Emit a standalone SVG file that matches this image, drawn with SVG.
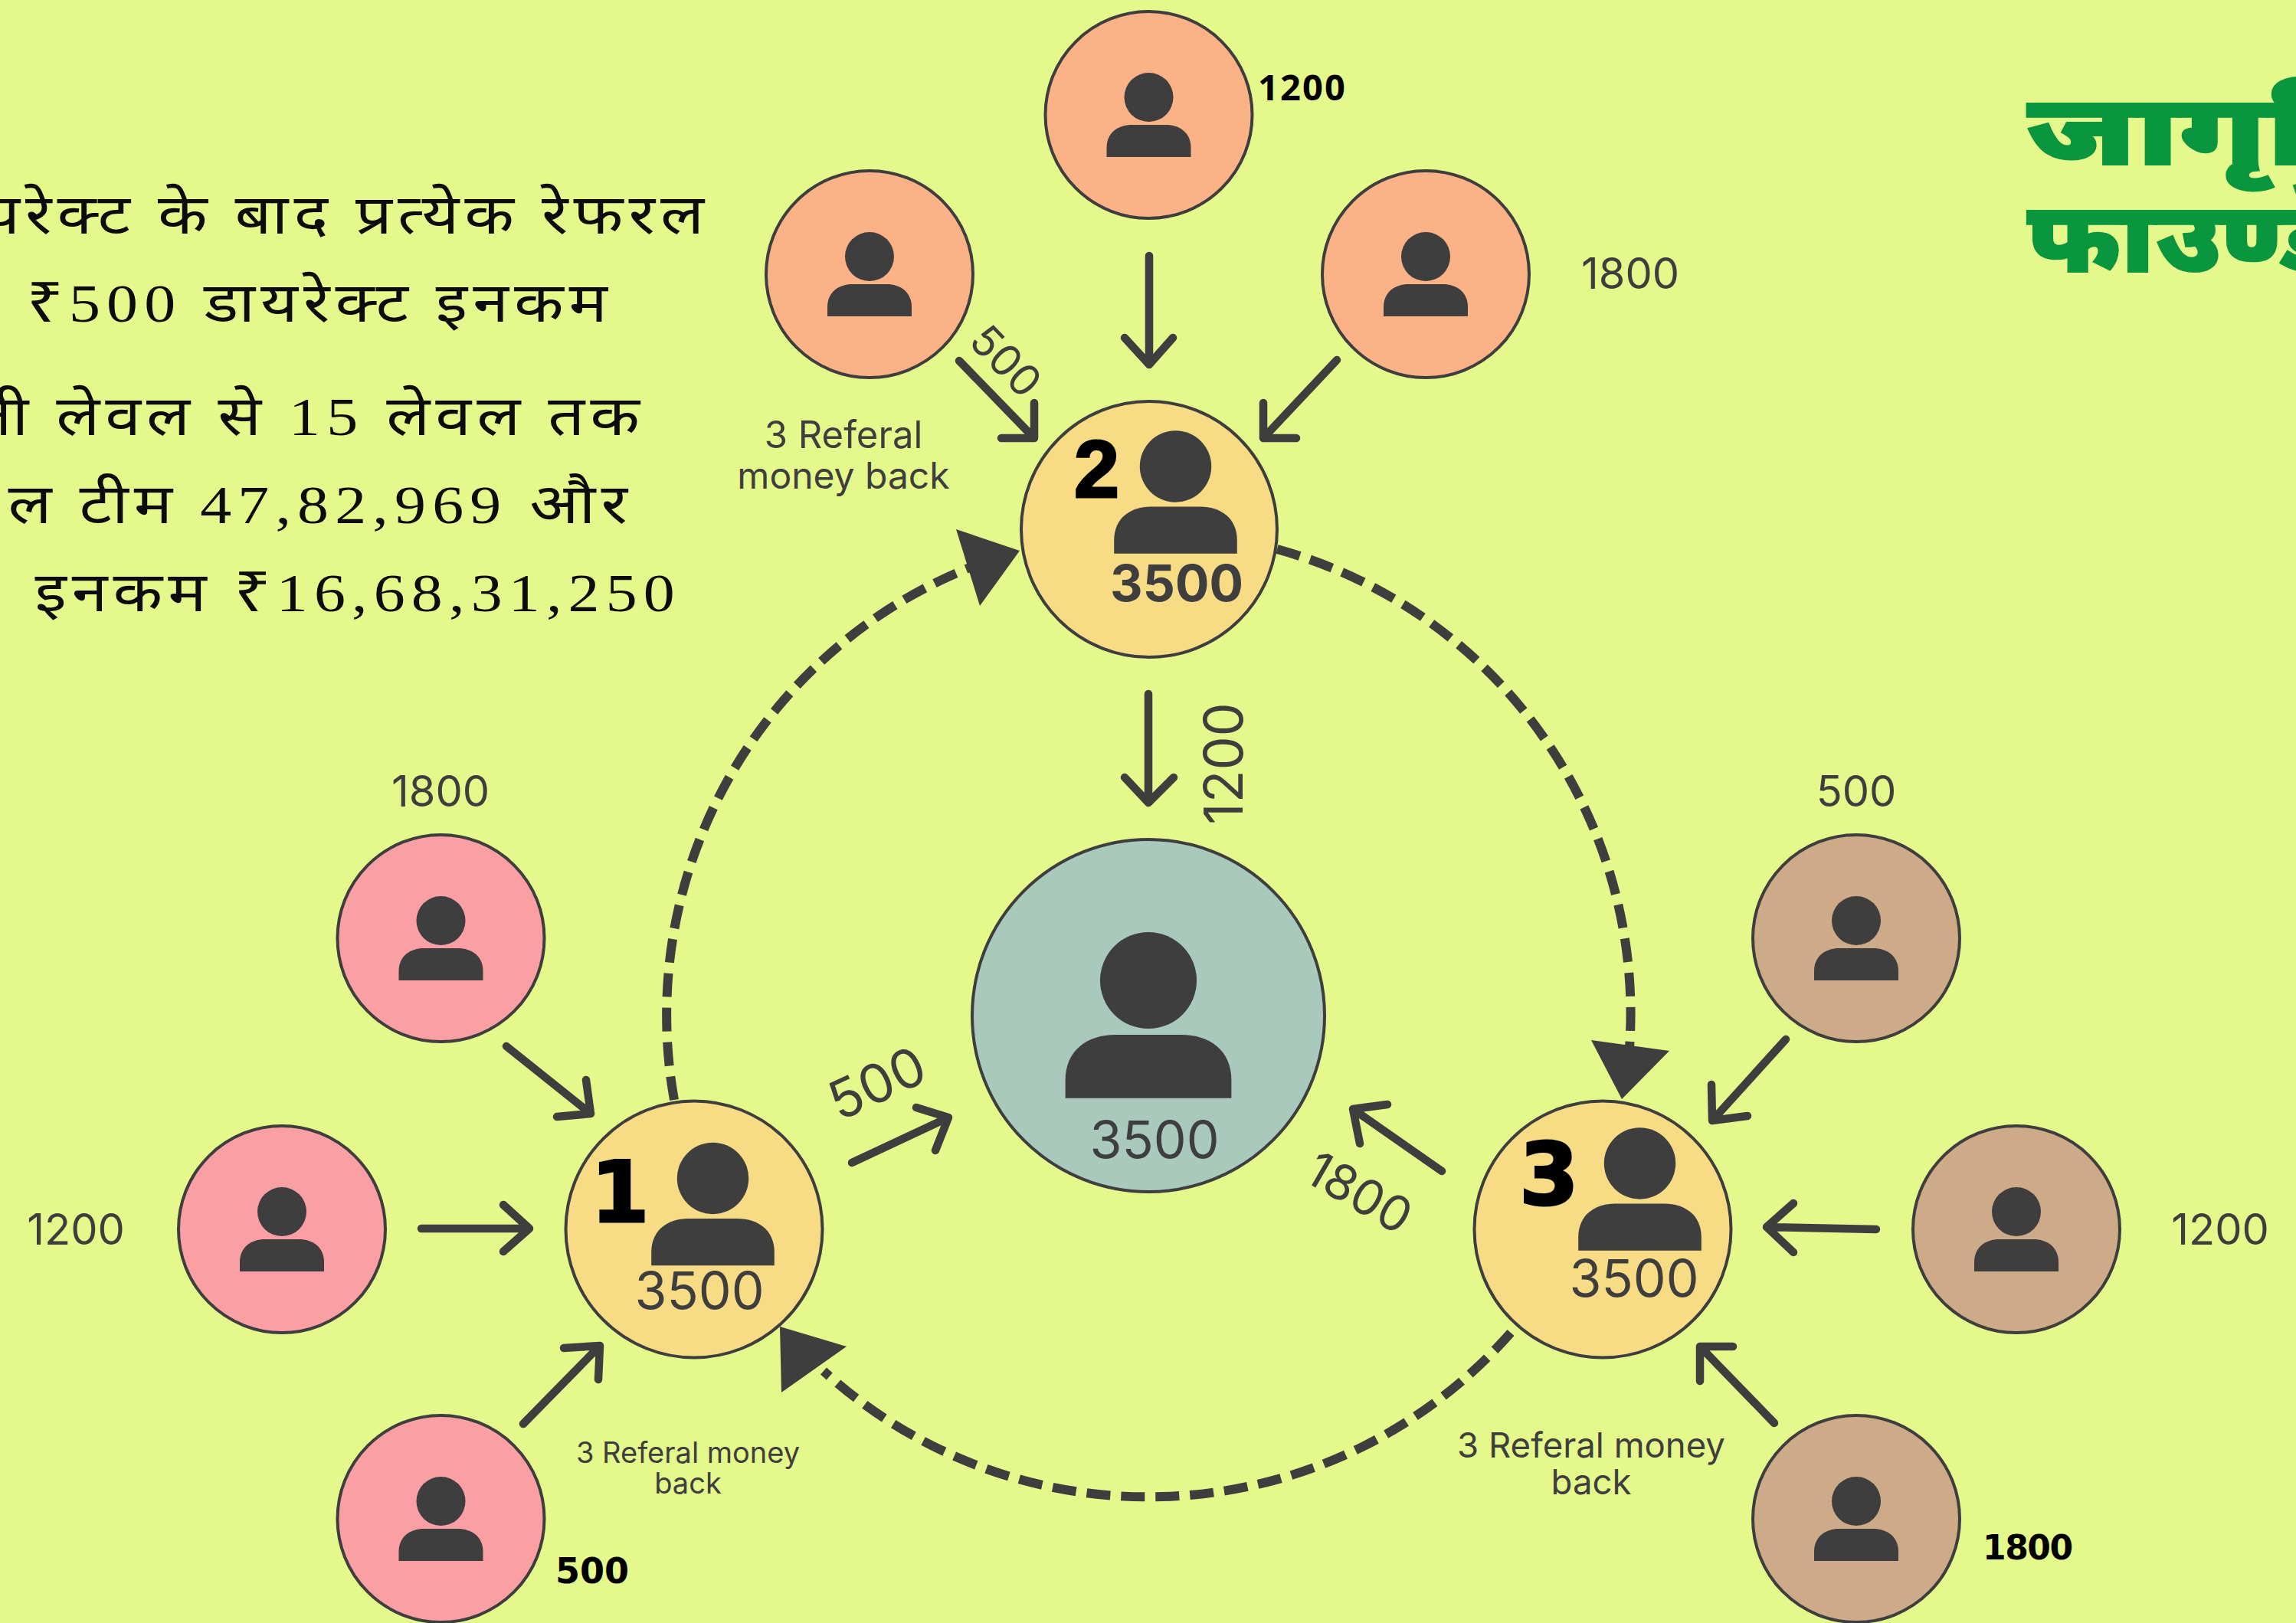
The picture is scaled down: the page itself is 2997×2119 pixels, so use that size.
<svg xmlns="http://www.w3.org/2000/svg" width="2997" height="2119" viewBox="0 0 2997 2119">
<style>
.n{stroke:#3e3e3e;stroke-width:4}
.o{fill:#fbb287}.p{fill:#faa0a5}.b{fill:#cdaa88}.y{fill:#f7dc85}.t{fill:#a8c9bc}
.arr{fill:none;stroke:#3e3e3e;stroke-width:10.500;stroke-linecap:round;stroke-linejoin:round}
.dash{fill:none;stroke:#3e3e3e;stroke-width:12;stroke-dasharray:31 14}
.head{fill:#3e3e3e}
.lb{font-family:Inter,"Liberation Sans",sans-serif;fill:#3e3e3e;font-weight:400;text-anchor:middle}
.lbb{font-weight:700}
.hi{font-family:"Noto Sans","Liberation Sans",sans-serif;font-size:72px;fill:#0c0c0c;text-anchor:end;letter-spacing:6px}
.d{font-family:"Liberation Serif",serif;font-size:70px;letter-spacing:7px}
.logo{font-family:"Noto Sans","Liberation Sans",sans-serif;font-size:128px;font-weight:900;fill:#0a953f;stroke:#0a953f;stroke-width:2}
.num{font-family:"DejaVu Sans",sans-serif;font-weight:700;fill:#000}
.hv{stroke:#000;stroke-width:3}
</style>
<defs>
<g id="person"><circle cx="0" cy="-36" r="32" fill="#3e3e3e"/><path d="M-55 42V30C-55 10-40 0-22 0H22C40 0 55 10 55 30V42Z" fill="#3e3e3e"/></g>
</defs>
<rect width="2997" height="2119" fill="#e5f88b"/>
<g id="connectors">
<path class="dash" d="M880 1436A629 629 0 0 1 1271 739"/>
<polygon class="head" points="1248,691 1331,719 1279,791"/>
<path class="dash" d="M1667 717A629 629 0 0 1 2126 1380"/>
<polygon class="head" points="2077,1358 2179,1372 2117,1435"/>
<path class="dash" d="M1972 1740A629 629 0 0 1 1075 1790"/>
<polygon class="head" points="1018,1732 1105,1758 1020,1818"/>
<path class="arr" d="M1500 334V476M1468 441L1500 476L1531 441"/>
<path class="arr" d="M1252 471L1350 572M1350 526V572H1307"/>
<path class="arr" d="M1745 470L1649 572M1649 526V572H1692"/>
<path class="arr" d="M1499 906V1048M1468 1015L1499 1048L1532 1015"/>
<path class="arr" d="M1112 1518L1238 1459M1196 1446L1238 1459L1221 1502"/>
<path class="arr" d="M1882 1529L1766 1448M1811 1442L1766 1448L1775 1493"/>
<path class="arr" d="M661 1366L771 1454M765 1410L771 1454L727 1458"/>
<path class="arr" d="M550 1604H691M657 1573L691 1604L657 1634"/>
<path class="arr" d="M683 1859L783 1757M736 1760L783 1757L781 1801"/>
<path class="arr" d="M2331 1357L2235 1463M2234 1416L2235 1463L2281 1457"/>
<path class="arr" d="M2449 1605L2306 1602M2341 1571L2306 1602L2341 1635"/>
<path class="arr" d="M2316 1858L2219 1758M2262 1758H2219V1803"/>
</g>
<g id="node-top"><circle class="n o" cx="1499.500" cy="150" r="135"/><use href="#person" transform="translate(1499.500 163)"/><text x="1642" y="131" font-family="Noto Sans,sans-serif" font-weight="700" font-size="47" textLength="114" fill="#000">1200</text></g>
<g id="node-top-left"><circle class="n o" cx="1135" cy="358" r="135"/><use href="#person" transform="translate(1135 371)"/></g>
<g id="node-top-right"><circle class="n o" cx="1861" cy="358" r="135"/><use href="#person" transform="translate(1861 371)"/><text class="lb" x="2128" y="377" font-size="56">1800</text></g>
<g id="node-2"><circle class="n y" cx="1500" cy="691" r="167"/><use href="#person" transform="translate(1534.500 661.500) scale(1.46)"/><text x="1402" y="649" font-family="Liberation Sans,sans-serif" font-weight="700" font-size="106" fill="#000" class="hv">2</text><text class="lb lbb" x="1536" y="785" font-size="66">3500</text></g>
<g id="node-center"><circle class="n t" cx="1499" cy="1326" r="230"/><use href="#person" transform="translate(1499 1351) scale(1.97)"/><text class="lb" x="1507" y="1512" font-size="68">3500</text></g>
<g id="node-1"><circle class="n y" cx="906" cy="1605" r="167.500"/><use href="#person" transform="translate(930.500 1591) scale(1.46)"/><text class="num hv" x="771" y="1595" font-size="110">1</text><text class="lb" x="913" y="1709" font-size="68">3500</text></g>
<g id="node-3"><circle class="n y" cx="2092" cy="1605" r="167.500"/><use href="#person" transform="translate(2140.500 1571.500) scale(1.46)"/><text class="num hv" x="1983" y="1572" font-size="112">3</text><text class="lb" x="2133" y="1693" font-size="68">3500</text></g>
<g id="node-p1"><circle class="n p" cx="575.500" cy="1225" r="135"/><use href="#person" transform="translate(575.500 1238)"/><text class="lb" x="575" y="1053" font-size="56">1800</text></g>
<g id="node-p2"><circle class="n p" cx="368" cy="1605" r="135"/><use href="#person" transform="translate(368 1618)"/><text class="lb" x="99" y="1625" font-size="56">1200</text></g>
<g id="node-p3"><circle class="n p" cx="575.500" cy="1983" r="135"/><use href="#person" transform="translate(575.500 1996)"/><text class="num" x="725" y="2067" font-size="46">500</text></g>
<g id="node-b1"><circle class="n b" cx="2423" cy="1225" r="135"/><use href="#person" transform="translate(2423 1238)"/><text class="lb" x="2423" y="1053" font-size="56">500</text></g>
<g id="node-b2"><circle class="n b" cx="2632" cy="1605" r="135"/><use href="#person" transform="translate(2632 1618)"/><text class="lb" x="2898" y="1625" font-size="56">1200</text></g>
<g id="node-b3"><circle class="n b" cx="2423" cy="1983" r="135"/><use href="#person" transform="translate(2423 1996)"/><text class="num" x="2588" y="2036" font-size="44" textLength="118">1800</text></g>
<g id="labels">
<text class="lb" font-size="56" transform="translate(1313 471) rotate(46)" y="20">500</text>
<text class="lb" font-size="70" transform="translate(1622 997) rotate(-90)">1200</text>
<text class="lb" font-size="70" transform="translate(1145 1415) rotate(-25)" y="24">500</text>
<text class="lb" font-size="64" transform="translate(1775 1556) rotate(30)" y="24">1800</text>
<text class="lb" x="1101" y="585" font-size="49">3 Referal</text>
<text class="lb" x="1101" y="638" font-size="48">money back</text>
<text class="lb" x="898" y="1910" font-size="38">3 Referal money</text>
<text class="lb" x="898" y="1950" font-size="38">back</text>
<text class="lb" x="2077" y="1903" font-size="45.500">3 Referal money</text>
<text class="lb" x="2077" y="1951" font-size="45.500">back</text>
</g>
<g id="copy">
<text class="hi" transform="translate(926 305) scale(1.17 1)">डायरेक्ट के बाद प्रत्येक रेफरल</text>
<text class="hi" transform="translate(800 420) scale(1.17 1)">₹<tspan class="d">500</tspan> डायरेक्ट इनकम</text>
<text class="hi" transform="translate(842 568) scale(1.17 1)">ती लेवल से <tspan class="d">15</tspan> लेवल तक</text>
<text class="hi" transform="translate(826 683) scale(1.17 1)">ल टीम <tspan class="d">47,82,969</tspan> और</text>
<text class="hi" transform="translate(889 798) scale(1.17 1)">इनकम ₹<tspan class="d">16,68,31,250</tspan></text>
</g>
<g id="logo">
<text class="logo" transform="translate(2646 215) scale(1.37 1)">जागृति</text>
<text class="logo" transform="translate(2646 355) scale(1.1 1)">फाउण्डेशन</text>
</g>
</svg>
